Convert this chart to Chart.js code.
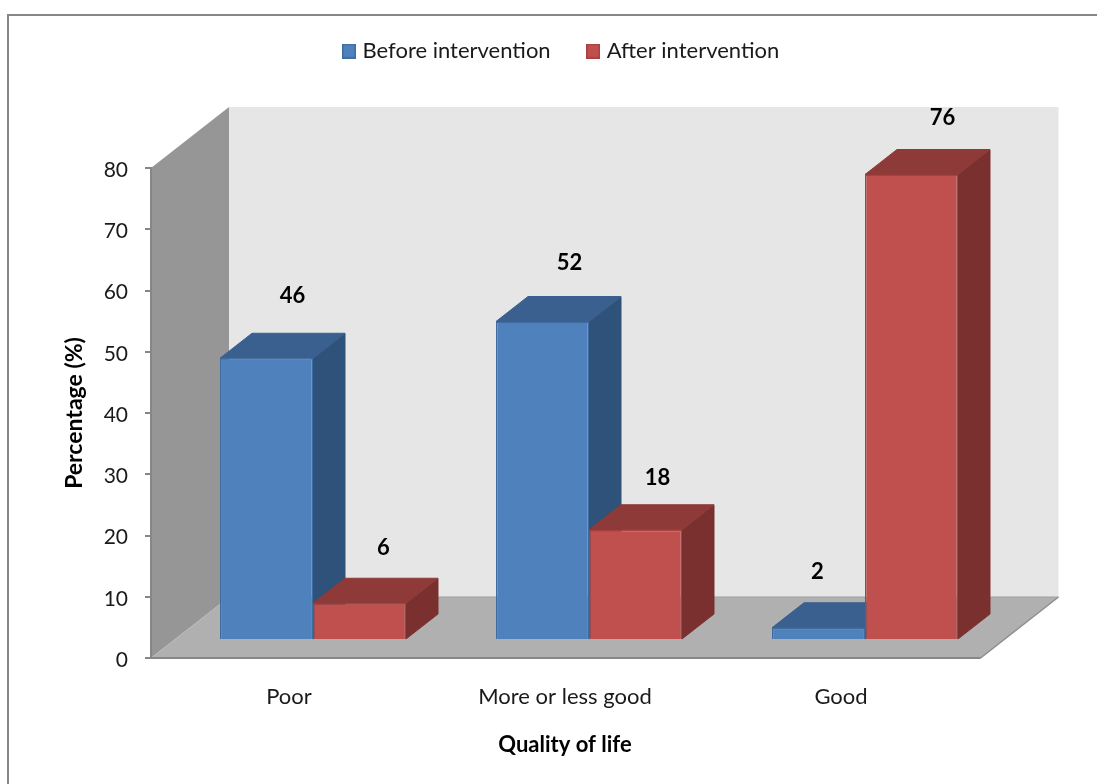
<!DOCTYPE html>
<html>
<head>
<meta charset="utf-8">
<style>html,body{margin:0;padding:0;background:#fff}#w{position:relative;width:1097px;height:784px}</style>
<script src="https://cdn.jsdelivr.net/npm/chart.js@4/dist/chart.umd.min.js"></script>
</head>
<body>
<div id="w"><canvas id="c" width="1097" height="784"></canvas></div>
<script>
const categories = ['Poor', 'More or less good', 'Good'];
const beforeValues = [46, 52, 2];
const afterValues = [6, 18, 76];
const seriesNames = ['Before intervention', 'After intervention'];
const yTicks = [0, 10, 20, 30, 40, 50, 60, 70, 80];
const xTitle = 'Quality of life';
const yTitle = 'Percentage (%)';

const FONT = 'Lato, Carlito, "Open Sans", sans-serif';
const TEXT = '#1a1a1a';
const AXIS = '#868686';
const WALL = { dx: 78, dy: -61, rightExtra: 1.5 };
const INSET = { dx: 24, dy: -18 };
const DEPTH = { dx: 32, dy: -25 };
const PALETTE = [
  { front: '#4F81BD', top: '#3A6090', side: '#2F527B', edge: '#3F6C9F' },
  { front: '#C0504D', top: '#8E3A38', side: '#7A302E', edge: '#A8413F' }
];
// hand-placed label shifts, relative to the front-face top centre
const LABEL_SHIFT = [
  [[26, -62], [27, -59], [-1, -56]],
  [[24, -55], [22, -52], [31, -57]]
];

function swatch(p) {
  const s = document.createElement('canvas');
  s.width = 14; s.height = 15;
  const g = s.getContext('2d');
  g.fillStyle = p.edge; g.fillRect(0, 0, 14, 15);
  g.fillStyle = p.front; g.fillRect(1.5, 1.5, 11, 12);
  return s;
}
const swatches = PALETTE.map(swatch);

function poly(ctx, pts, fill, stroke) {
  ctx.beginPath();
  pts.forEach((p, i) => i ? ctx.lineTo(p[0], p[1]) : ctx.moveTo(p[0], p[1]));
  ctx.closePath();
  ctx.fillStyle = fill;
  ctx.fill();
  if (stroke) { ctx.strokeStyle = stroke; ctx.lineWidth = 1; ctx.stroke(); }
}

const scene3d = {
  id: 'scene3d',
  afterLayout(chart) {
    const lg = chart.legend;
    if (lg && lg.lineWidths) {
      const p = lg.options.labels.padding;
      const shift = (2 * 346.5 - p + lg.lineWidths[0] - (lg.left + lg.right)) / 2;
      lg.left += shift; lg.right += shift;
      lg.top = 51 - p - lg.options.labels.font.size / 2;
    }
  },
  beforeDraw(chart) {
    const { ctx, chartArea: a } = chart;
    ctx.save();
    // outer frame
    ctx.strokeStyle = AXIS; ctx.lineWidth = 2;
    ctx.beginPath();
    ctx.moveTo(8, chart.height); ctx.lineTo(8, 15); ctx.lineTo(chart.width, 15);
    ctx.stroke();
    const yTop = chart.scales.y.getPixelForValue(80);
    const yBot = chart.scales.y.getPixelForValue(0);
    const W = WALL, L = a.left, R = a.right + W.rightExtra;
    poly(ctx, [[L + W.dx, yTop + W.dy], [R + W.dx, yTop + W.dy], [R + W.dx, yBot + W.dy], [L + W.dx, yBot + W.dy]], '#E6E6E6');
    poly(ctx, [[L, yTop], [L + W.dx, yTop + W.dy], [L + W.dx, yBot + W.dy], [L, yBot]], '#969696');
    poly(ctx, [[L, yBot], [L + W.dx, yBot + W.dy], [R + W.dx, yBot + W.dy], [R, yBot]], '#B0B0B0');
    ctx.strokeStyle = '#8E8E8E'; ctx.lineWidth = 1.5;
    ctx.beginPath();
    ctx.moveTo(a.right, yBot); ctx.lineTo(R, yBot); ctx.lineTo(R + W.dx, yBot + W.dy);
    ctx.stroke();
    ctx.strokeStyle = '#A0A0A0'; ctx.lineWidth = 1;
    ctx.beginPath();
    ctx.moveTo(L + W.dx, yBot + W.dy); ctx.lineTo(R + W.dx, yBot + W.dy);
    ctx.stroke();
    ctx.restore();
  },
  beforeDatasetsDraw(chart) {
    const { ctx } = chart;
    ctx.save();
    ctx.translate(INSET.dx, INSET.dy);
    chart.data.datasets.forEach((ds, i) => {
      const p = PALETTE[i];
      chart.getDatasetMeta(i).data.forEach(bar => {
        const x0 = bar.x - bar.width / 2, x1 = bar.x + bar.width / 2;
        const t = bar.y, b = bar.base, d = DEPTH;
        poly(ctx, [[x1, t], [x1 + d.dx, t + d.dy], [x1 + d.dx, b + d.dy], [x1, b]], p.side, p.side);
        poly(ctx, [[x0, t], [x0 + d.dx, t + d.dy], [x1 + d.dx, t + d.dy], [x1, t]], p.top, p.top);
      });
    });
  },
  afterDatasetsDraw(chart) {
    const { ctx } = chart;
    ctx.restore();
    ctx.save();
    ctx.fillStyle = '#000';
    ctx.font = 'bold 22px ' + FONT;
    ctx.textAlign = 'center';
    ctx.textBaseline = 'middle';
    chart.data.datasets.forEach((ds, i) => {
      chart.getDatasetMeta(i).data.forEach((bar, j) => {
        const s = LABEL_SHIFT[i][j];
        ctx.fillText(String(ds.data[j]), bar.x + INSET.dx + s[0], bar.y + INSET.dy + s[1]);
      });
    });
    ctx.restore();
  }
};

const chart = new Chart(document.getElementById('c'), {
  type: 'bar',
  data: {
    labels: categories,
    datasets: [
      { label: seriesNames[0], data: beforeValues, backgroundColor: PALETTE[0].front, borderColor: PALETTE[0].edge, borderWidth: 1.5 },
      { label: seriesNames[1], data: afterValues, backgroundColor: PALETTE[1].front, borderColor: PALETTE[1].edge, borderWidth: 1.5 }
    ]
  },
  options: {
    responsive: false,
    animation: false,
    devicePixelRatio: 1,
    categoryPercentage: 0.67391,
    barPercentage: 1,
    layout: { autoPadding: false, padding: { left: 61, right: 118, top: 60, bottom: 26 } },
    plugins: {
      tooltip: { enabled: false },
      legend: {
        position: 'top',
        labels: {
          usePointStyle: true,
          pointStyleWidth: 5,
          padding: 40,
          color: TEXT,
          font: { family: FONT, size: 22 },
          generateLabels(c) {
            return Chart.defaults.plugins.legend.labels.generateLabels(c)
              .map((l, i) => Object.assign(l, { pointStyle: swatches[i] }));
          }
        }
      }
    },
    scales: {
      x: {
        afterFit(s) { s.height = 100; },
        grid: { drawOnChartArea: false, drawTicks: false },
        border: { display: true, color: AXIS, width: 2 },
        ticks: { padding: 26, color: TEXT, font: { family: FONT, size: 22 }, maxRotation: 0 },
        title: { display: true, text: xTitle, color: '#000', padding: 0, font: { family: FONT, size: 22, weight: 'bold' } }
      },
      y: {
        min: 0,
        max: 80,
        afterFit(s) {
          s.width = 90;
          if (!s.labelsNudged) {
            // tick digits sit slightly lower than the font's own middle
            const draw = s.drawLabels;
            s.drawLabels = function (area) {
              s.ctx.save();
              s.ctx.translate(0, 2);
              draw.call(s, area);
              s.ctx.restore();
            };
            s.labelsNudged = true;
          }
        },
        afterBuildTicks(s) { s.ticks = yTicks.map(v => ({ value: v })); },
        grid: { drawOnChartArea: false, drawTicks: true, tickLength: 6, color: AXIS, lineWidth: 2 },
        border: { display: true, color: AXIS, width: 2 },
        ticks: { padding: 17, color: TEXT, font: { family: FONT, size: 21 } },
        title: { display: true, text: yTitle, color: '#000', padding: 0, font: { family: FONT, size: 23, weight: 'bold' } }
      }
    }
  },
  plugins: [scene3d]
});
// settle the plot area top on the reference position
chart.options.layout.padding.top += 168 - chart.chartArea.top;
chart.update('none');
</script>
</body>
</html>
